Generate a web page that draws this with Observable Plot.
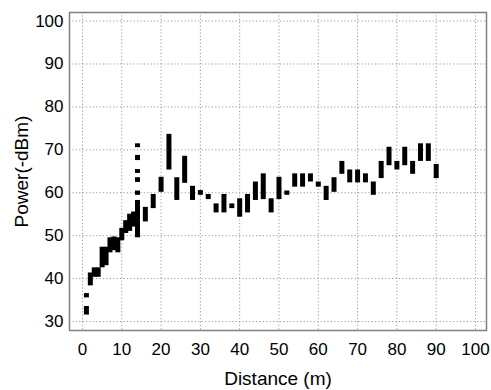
<!DOCTYPE html>
<html>
<head>
<meta charset="utf-8">
<script src="https://cdn.jsdelivr.net/npm/d3@7"></script>
<script src="https://cdn.jsdelivr.net/npm/@observablehq/plot@0.6"></script>
<style>
  html, body { margin: 0; padding: 0; background: #fff; }
  #chart svg { display: block; }
</style>
</head>
<body>
<div id="chart"></div>
<script>
// Distance (m) and measured power range (-dBm)
const distance = [1, 1, 2, 3, 4, 5, 6, 7, 8, 9, 10, 11, 12, 13,
  14, 14, 14, 14, 14, 14,
  16, 18, 20, 22, 24, 26, 28, 30, 32, 34, 36, 38, 40, 42, 44, 46, 48, 50,
  52, 54, 56, 58, 60, 62, 64, 66, 68, 70, 72, 74, 76, 78, 80, 82, 84, 86, 88, 90];
const powerLow = [31.5, 35.5, 38.3, 40.3, 40.3, 42.5, 43.0, 46.0, 46.5, 46.0, 48.8, 50.5, 51.0, 52.0,
  49.5, 59.4, 62.4, 64.5, 67.5, 70.5,
  53.2, 56.3, 60.1, 65.3, 58.2, 62.2, 58.2, 59.4, 58.4, 55.3, 55.3, 56.3, 54.3, 55.3, 58.2, 58.4, 55.3, 58.4,
  59.4, 61.3, 61.3, 62.5, 61.3, 58.2, 60.1, 64.3, 62.3, 62.3, 62.3, 59.4, 63.3, 66.3, 65.3, 66.3, 64.3, 67.3, 67.3, 63.3];
const powerHigh = [33.5, 36.5, 41.3, 42.5, 42.5, 47.3, 47.3, 49.5, 49.7, 49.5, 51.7, 53.5, 55.0, 55.5,
  58.2, 60.4, 63.5, 65.4, 68.7, 71.4,
  56.6, 59.6, 63.6, 73.6, 63.5, 68.5, 61.5, 60.5, 59.6, 57.4, 59.6, 57.4, 58.6, 59.6, 62.5, 64.4, 58.6, 63.6,
  60.4, 64.4, 64.4, 64.4, 62.5, 61.5, 63.5, 67.3, 65.3, 65.3, 64.4, 62.5, 67.3, 70.6, 67.3, 70.6, 67.3, 71.4, 71.4, 66.6];
const xTicks = [0, 10, 20, 30, 40, 50, 60, 70, 80, 90, 100];
const yTicks = [30, 40, 50, 60, 70, 80, 90, 100];

const data = distance.map((d, i) => ({distance: d, low: powerLow[i], high: powerHigh[i]}));

const chart = Plot.plot({
  width: 491,
  height: 390,
  marginLeft: 69,
  marginRight: 5,
  marginTop: 12,
  marginBottom: 60,
  style: {fontFamily: "'Liberation Sans', Arial, sans-serif", fontSize: "17px", color: "#000", background: "#fff"},
  x: {domain: [-3.3, 102.8]},
  y: {domain: [27.9, 102]},
  marks: [
    Plot.gridX(xTicks, {stroke: "#999", strokeOpacity: 1, strokeDasharray: "1.2,2.2"}),
    Plot.gridY(yTicks, {stroke: "#999", strokeOpacity: 1, strokeDasharray: "1.2,2.2"}),
    Plot.axisX({ticks: xTicks, tickSize: 0, tickPadding: 12, label: null, fontSize: 17}),
    Plot.axisX({ticks: [], label: "Distance (m)", labelArrow: "none", labelAnchor: "center", labelOffset: 54, fontSize: 19}),
    Plot.axisY({ticks: yTicks, tickSize: 0, tickPadding: 6, label: null, fontSize: 17}),
    Plot.axisY({ticks: [], label: "Power(-dBm)", labelArrow: "none", labelAnchor: "center", labelOffset: 55, fontSize: 19}),
    Plot.ruleX(data, {x: "distance", y1: "low", y2: "high", stroke: "#000", strokeWidth: 5}),
    Plot.frame({stroke: "#808080", strokeWidth: 1.5})
  ]
});
document.getElementById("chart").appendChild(chart);
</script>
</body>
</html>
